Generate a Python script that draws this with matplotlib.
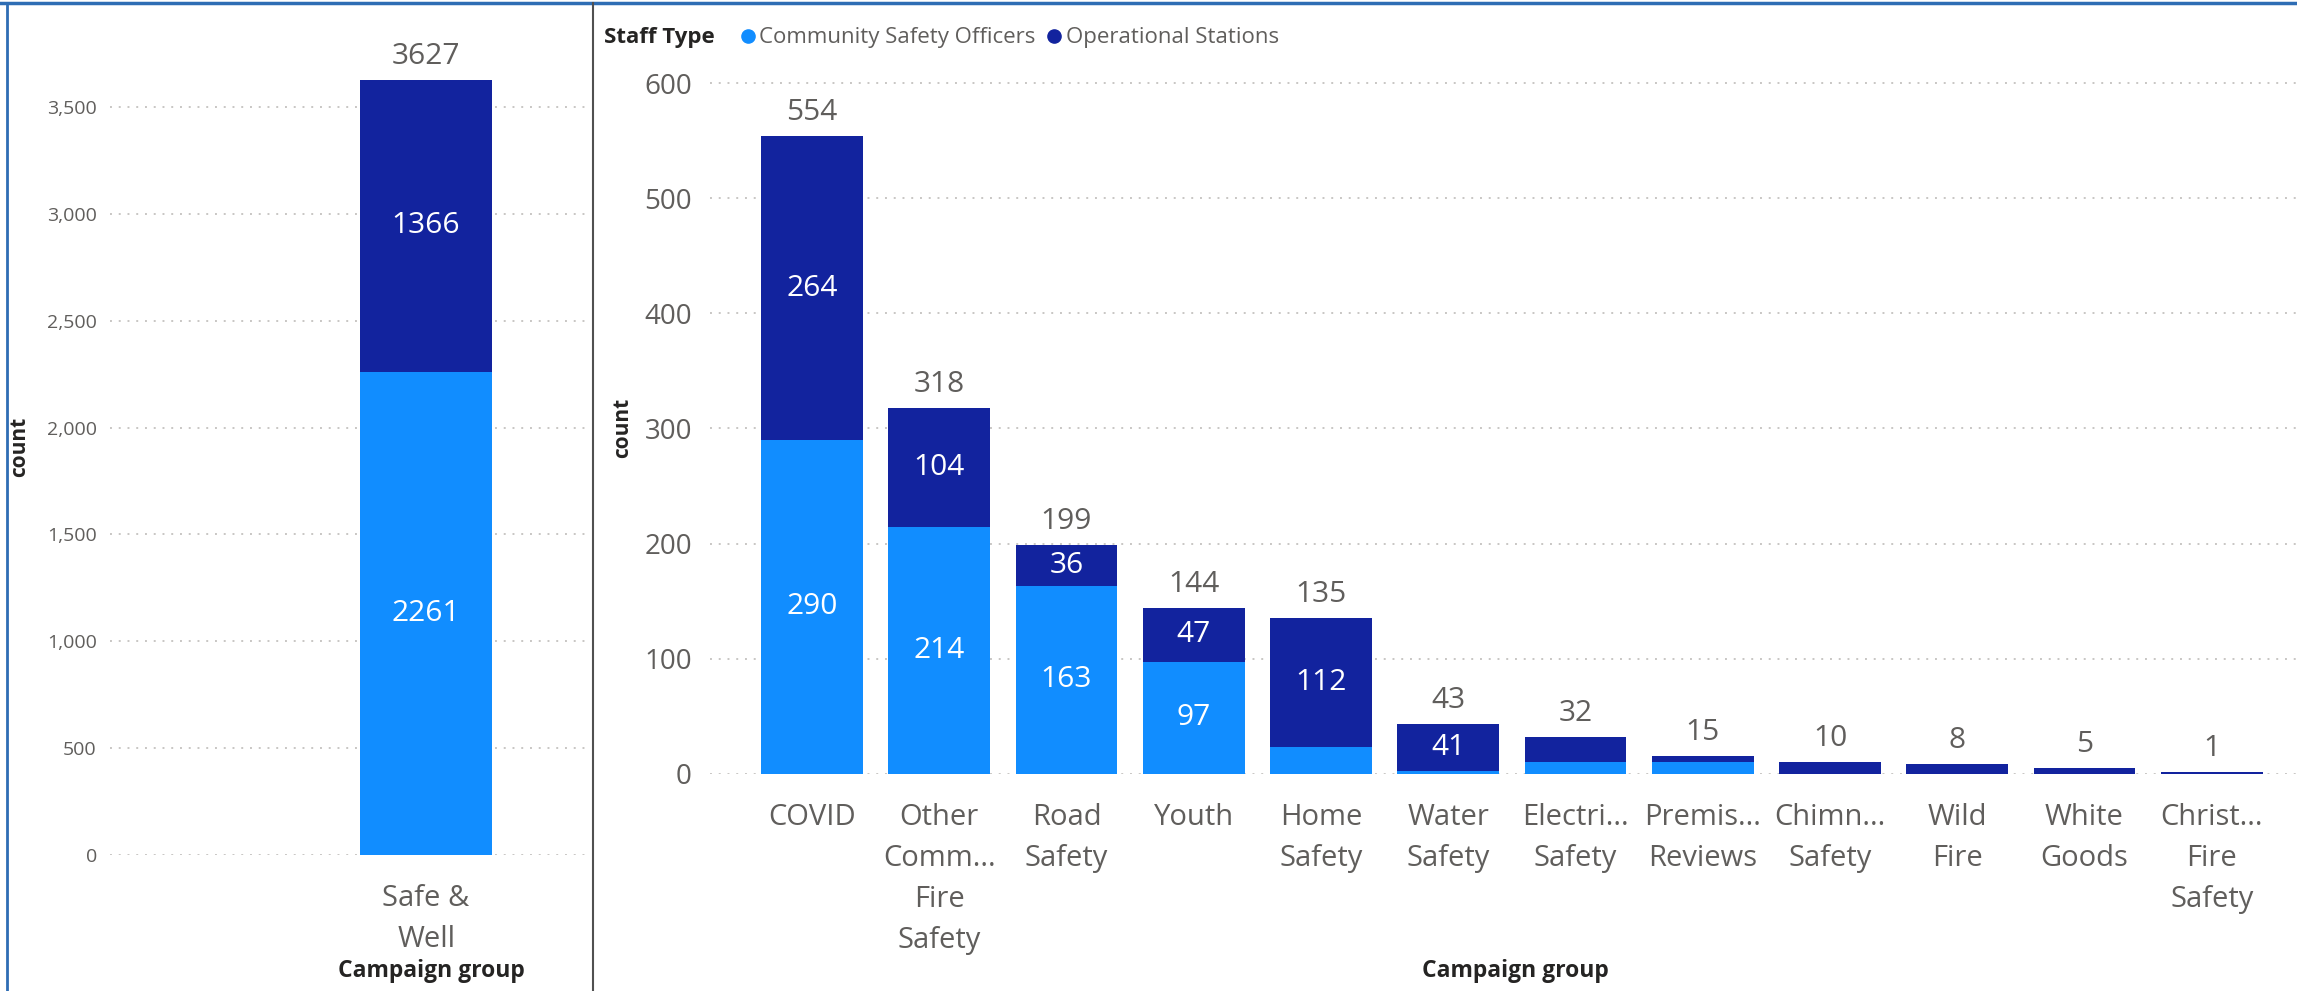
import matplotlib
matplotlib.use("Agg")
import matplotlib.pyplot as plt
from matplotlib.lines import Line2D
import numpy as np

plt.rcParams['font.family'] = ['Open Sans', 'DejaVu Sans']

# ---------------- data ----------------
left_categories = ["Safe &\nWell"]
left_cso = [2261]
left_ops = [1366]

categories = ["COVID", "Other\nComm...\nFire\nSafety", "Road\nSafety", "Youth",
              "Home\nSafety", "Water\nSafety", "Electri...\nSafety", "Premis...\nReviews",
              "Chimn...\nSafety", "Wild\nFire", "White\nGoods", "Christ...\nFire\nSafety"]
cso = [290, 214, 163, 97, 23, 2, 10, 10, 0, 0, 0, 0]
ops = [264, 104, 36, 47, 112, 41, 22, 5, 10, 8, 5, 1]

series_names = ["Community Safety Officers", "Operational Stations"]
left_yticks = [0, 500, 1000, 1500, 2000, 2500, 3000, 3500]
right_yticks = [0, 100, 200, 300, 400, 500, 600]

# ---------------- style ----------------
C_CSO = "#118DFF"
C_OPS = "#12239E"
C_TICK = "#605E5C"
C_TITLE = "#252423"
C_GRID = "#C8C6C4"

W, H = 2297, 991
fig = plt.figure(figsize=(W / 100, H / 100), dpi=100)
fig.patch.set_facecolor("white")


def style_axes(ax, yticks, ylabelsize, pad):
    for s in ax.spines.values():
        s.set_visible(False)
    ax.set_yticks(yticks)
    ax.yaxis.grid(True, linestyle=(0, (1, 3.5)), linewidth=1.4, color=C_GRID)
    ax.set_axisbelow(True)
    ax.tick_params(axis='y', length=0, labelsize=ylabelsize, labelcolor=C_TICK, pad=pad)
    ax.tick_params(axis='x', length=0, labelsize=21, labelcolor=C_TICK, pad=21)
    for t in ax.get_xticklabels():
        t.set_linespacing(1.55)


def draw_stack(ax, xs, a, b, total_offset, min_label):
    a = np.array(a)
    b = np.array(b)
    ax.bar(xs, a, width=0.8, color=C_CSO, linewidth=0)
    ax.bar(xs, b, width=0.8, bottom=a, color=C_OPS, linewidth=0)
    for x, va_, vb in zip(xs, a, b):
        if va_ >= min_label:
            ax.text(x, va_ / 2, f"{va_}", ha='center', va='center', color='white', fontsize=21.5)
        if vb >= min_label:
            ax.text(x, va_ + vb / 2, f"{vb}", ha='center', va='center', color='white', fontsize=21.5)
        ax.annotate(f"{va_ + vb}", (x, va_ + vb), xytext=(0, total_offset), textcoords='offset points',
                    ha='center', va='center', color=C_TICK, fontsize=21.5)


# ---------------- left panel ----------------
axL = fig.add_axes([110 / W, 1 - 855 / H, 476 / W, (855 - 43) / H])
xl = np.arange(len(left_categories))
draw_stack(axL, xl, left_cso, left_ops, 17, 1)
axL.set_ylim(0, 3800)
axL.set_xlim(-1.916, 0.969)
axL.set_xticks(xl)
axL.set_xticklabels(left_categories)
axL.yaxis.set_major_formatter(matplotlib.ticker.FuncFormatter(lambda v, p: f"{int(v):,}"))
style_axes(axL, left_yticks, 14, 9.5)

# ---------------- right panel ----------------
axR = fig.add_axes([710 / W, 1 - 773.5 / H, (W - 710) / W, (773.5 - 37.5) / H])
xr = np.arange(len(categories))
draw_stack(axR, xr, cso, ops, 17, 30)
axR.set_ylim(0, 640)
axR.set_xlim(-0.801, 11.67)
axR.set_xticks(xr)
axR.set_xticklabels(categories)
style_axes(axR, right_yticks, 20, 13)

# ---------------- axis titles ----------------
fig.text(431 / W, 1 - 971 / H, "Campaign group", ha='center', va='center',
         fontsize=16.5, fontweight='bold', color=C_TITLE)
fig.text(1515 / W, 1 - 971 / H, "Campaign group", ha='center', va='center',
         fontsize=16.5, fontweight='bold', color=C_TITLE)
fig.text(20 / W, 1 - 447 / H, "count", ha='center', va='center', rotation=90,
         fontsize=15, fontweight='bold', color=C_TITLE)
fig.text(623 / W, 1 - 428 / H, "count", ha='center', va='center', rotation=90,
         fontsize=15, fontweight='bold', color=C_TITLE)

# ---------------- legend ----------------
fig.text(604 / W, 1 - 38 / H, "Staff Type", ha='left', va='center',
         fontsize=16, fontweight='bold', color=C_TITLE)
handles = [Line2D([], [], marker='o', linestyle='', color=c, markersize=9.5) for c in (C_CSO, C_OPS)]
leg = fig.legend(handles, series_names, loc='center left', bbox_to_anchor=(737 / W, 1 - 38 / H),
                 bbox_transform=fig.transFigure, frameon=False, ncol=2, handletextpad=0.0,
                 columnspacing=0.35, handlelength=1.0, borderpad=0, borderaxespad=0, fontsize=16)
for t in leg.get_texts():
    t.set_color(C_TICK)

# ---------------- frame ----------------
fig.add_artist(Line2D([0, 1], [1 - 3 / H, 1 - 3 / H], transform=fig.transFigure, color="#2E6DB4", lw=2.5))
fig.add_artist(Line2D([7 / W, 7 / W], [0, 1 - 3 / H], transform=fig.transFigure, color="#2E6DB4", lw=2.0))
fig.add_artist(Line2D([593 / W, 593 / W], [0, 1 - 3 / H], transform=fig.transFigure, color="#505050", lw=1.5))

fig.savefig("out.png", dpi=100, facecolor="white")
